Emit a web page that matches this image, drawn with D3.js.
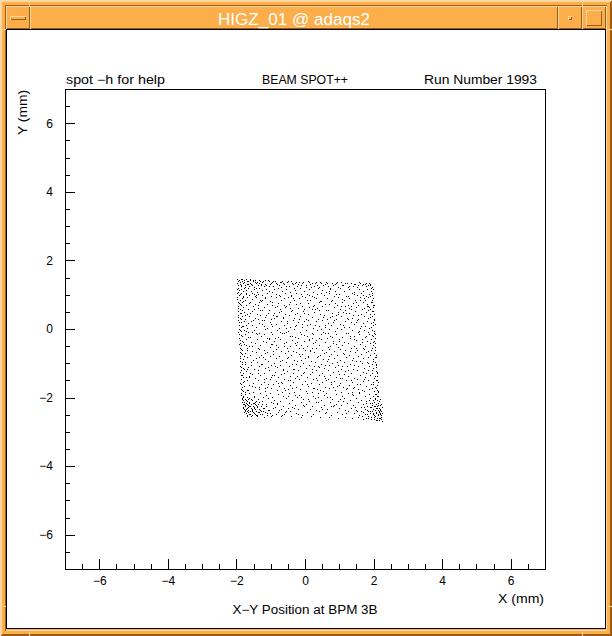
<!DOCTYPE html>
<html lang="en">
<head>
<meta charset="UTF-8">
<title>HIGZ_01 @ adaqs2</title>
<style>
  html, body { margin: 0; padding: 0; background: #fcae4a; }
  svg { display: block; }
  text { font-family: 'Liberation Sans', Arial, sans-serif; fill: #000; }
  .axis line { stroke: #000; shape-rendering: crispEdges; }
  .axis text { font-size: 12px; fill: #000; font-family: 'Liberation Sans', Arial, sans-serif; }
  .chrome { shape-rendering: crispEdges; }
</style>
</head>
<body>
<svg id="higz" width="612" height="636" viewBox="0 0 612 636"></svg>
<script src="https://d3js.org/d3.v7.min.js"></script>
<script>

const windowTitle = "HIGZ_01 @ adaqs2";
const headerLeft = "spot \u2212h for help",
    headerMid = "BEAM SPOT++",
    headerRight = "Run Number 1993";
const xTitle = "X (mm)",
    yTitle = "Y (mm)",
    caption = "X\u2212Y Position at BPM 3B";

const axisDomain = [-7, 7];
const majorTicks = [-6, -4, -2, 0, 2, 4, 6];
const minorTicks = [-6.5, -6, -5.5, -5, -4.5, -4, -3.5, -3, -2.5, -2, -1.5, -1, -0.5, 0,
  0.5, 1, 1.5, 2, 2.5, 3, 3.5, 4, 4.5, 5, 5.5, 6, 6.5];

// beam spot hits [x mm, y mm] (top to bottom)
const hits = [
  [-1.97,1.47],[-1.93,1.44],[-1.88,1.46],[-1.84,1.41],[-1.78,1.43],[-1.71,1.45],[-1.66,1.39],[-1.60,1.42],[-1.52,1.40],[-1.47,1.44],[-1.39,1.38],[-1.31,1.41],[-1.25,1.37],[-1.18,1.42],[-1.06,1.39],[-0.97,1.36],[-0.88,1.40],[-0.74,1.37],[-0.66,1.41],[-0.52,1.36],[-0.41,1.39],[-0.30,1.35],[-0.17,1.38],[-0.05,1.36],[0.08,1.39],[0.21,1.35],[0.33,1.37],[0.47,1.34],[0.62,1.38],[0.78,1.35],[0.91,1.33],[1.04,1.36],[1.18,1.33],[1.33,1.35],[1.47,1.32],[1.61,1.34],[1.74,1.31],[1.86,1.33],
  [-1.99,1.33],[-1.95,1.27],[-1.90,1.31],[-1.86,1.24],[-1.81,1.34],[-1.75,1.28],[-1.69,1.32],[-1.63,1.25],[-1.57,1.30],[-1.50,1.23],[-1.44,1.33],[-1.36,1.27],[-1.28,1.31],[-1.21,1.24],[-1.13,1.29],[-1.02,1.32],[-0.94,1.25],[-0.83,1.30],[-0.71,1.23],[-0.60,1.31],[-0.47,1.26],[-0.36,1.32],[-0.22,1.24],[-0.11,1.29],[0.02,1.23],[0.14,1.31],[0.27,1.26],[0.40,1.22],[0.53,1.29],[0.67,1.24],[0.83,1.28],[0.96,1.23],[1.11,1.27],[1.25,1.22],[1.39,1.26],[1.52,1.23],[1.66,1.27],[1.79,1.24],[1.90,1.28],[1.95,1.23],
  [-1.96,1.20],[-1.92,1.13],[-1.87,1.18],[-1.82,1.10],[-1.77,1.21],[-1.72,1.14],[-1.65,1.19],[-1.58,1.11],[-1.49,1.17],[-1.41,1.09],[-1.33,1.20],[-1.24,1.13],[-1.15,1.18],[-1.04,1.10],[-0.91,1.16],[-0.79,1.21],[-0.68,1.12],[-0.55,1.18],[-0.43,1.09],[-0.29,1.15],[-0.15,1.20],[-0.03,1.11],[0.11,1.17],[0.24,1.09],[0.38,1.19],[0.50,1.13],[0.61,1.08],[0.74,1.16],[0.88,1.11],[1.02,1.19],[1.15,1.10],[1.29,1.16],[1.43,1.09],[1.57,1.18],[1.70,1.12],[1.82,1.17],[1.93,1.10],[1.97,1.16],
  [-1.98,1.06],[-1.93,0.99],[-1.88,1.04],[-1.80,0.97],[-1.73,1.05],[-1.64,1.00],[-1.55,1.06],[-1.46,0.96],[-1.37,1.03],[-1.26,0.98],[-1.12,1.05],[-0.99,0.97],[-0.86,1.02],[-0.72,0.96],[-0.58,1.04],[-0.40,0.99],[-0.25,1.06],[-0.08,0.97],[0.06,1.03],[0.19,0.96],[0.35,1.02],[0.55,0.98],[0.70,1.05],[0.86,0.97],[1.00,1.02],[1.20,0.96],[1.36,1.04],[1.51,0.99],[1.64,1.05],[1.77,0.97],[1.88,1.03],[1.96,0.98],
  [-1.97,0.93],[-1.91,0.86],[-1.85,0.91],[-1.76,0.84],[-1.68,0.92],[-1.56,0.87],[-1.43,0.94],[-1.30,0.85],[-1.17,0.90],[-1.01,0.83],[-0.84,0.92],[-0.69,0.86],[-0.51,0.94],[-0.33,0.84],[-0.18,0.89],[0.00,0.93],[0.16,0.85],[0.31,0.91],[0.46,0.83],[0.63,0.90],[0.80,0.86],[0.97,0.93],[1.13,0.84],[1.28,0.90],[1.46,0.85],[1.61,0.92],[1.74,0.86],[1.85,0.93],[1.95,0.85],
  [-1.96,0.80],[-1.90,0.73],[-1.84,0.78],[-1.71,0.70],[-1.59,0.79],[-1.45,0.72],[-1.29,0.81],[-1.11,0.74],[-0.95,0.69],[-0.79,0.77],[-0.62,0.71],[-0.44,0.80],[-0.26,0.73],[-0.10,0.68],[0.09,0.76],[0.26,0.70],[0.42,0.79],[0.58,0.72],[0.76,0.81],[0.92,0.71],[1.08,0.78],[1.24,0.69],[1.40,0.77],[1.55,0.71],[1.70,0.80],[1.82,0.73],[1.94,0.78],[1.98,0.70],
  [-1.95,0.66],[-1.89,0.59],[-1.80,0.64],[-1.66,0.57],[-1.52,0.67],[-1.37,0.60],[-1.21,0.65],[-1.06,0.56],[-0.88,0.63],[-0.73,0.58],[-0.55,0.66],[-0.38,0.55],[-0.21,0.62],[-0.04,0.57],[0.13,0.65],[0.30,0.59],[0.49,0.67],[0.66,0.56],[0.84,0.63],[1.01,0.58],[1.17,0.66],[1.33,0.57],[1.50,0.64],[1.67,0.59],[1.80,0.66],[1.91,0.58],[1.99,0.63],
  [-1.94,0.53],[-1.88,0.46],[-1.79,0.51],[-1.70,0.44],[-1.54,0.52],[-1.40,0.45],[-1.25,0.54],[-1.09,0.47],[-0.93,0.42],[-0.76,0.50],[-0.59,0.44],[-0.41,0.53],[-0.24,0.46],[-0.07,0.52],[0.10,0.43],[0.27,0.50],[0.44,0.45],[0.61,0.54],[0.79,0.47],[0.95,0.43],[1.12,0.51],[1.29,0.46],[1.46,0.53],[1.63,0.44],[1.77,0.50],[1.89,0.45],[1.98,0.52],
  [-1.95,0.40],[-1.90,0.33],[-1.83,0.38],[-1.74,0.30],[-1.62,0.39],[-1.47,0.31],[-1.32,0.41],[-1.16,0.34],[-0.99,0.29],[-0.82,0.37],[-0.65,0.31],[-0.48,0.40],[-0.31,0.33],[-0.14,0.38],[0.04,0.29],[0.21,0.36],[0.37,0.30],[0.55,0.41],[0.72,0.34],[0.89,0.28],[1.06,0.39],[1.22,0.32],[1.39,0.40],[1.56,0.30],[1.71,0.37],[1.85,0.31],[1.96,0.38],[2.00,0.30],
  [-1.94,0.26],[-1.87,0.19],[-1.78,0.24],[-1.67,0.17],[-1.51,0.25],[-1.35,0.18],[-1.19,0.27],[-1.03,0.20],[-0.86,0.15],[-0.70,0.23],[-0.52,0.17],[-0.36,0.26],[-0.19,0.19],[-0.02,0.24],[0.15,0.16],[0.33,0.22],[0.50,0.27],[0.67,0.18],[0.85,0.25],[1.01,0.16],[1.18,0.23],[1.35,0.19],[1.52,0.26],[1.68,0.17],[1.82,0.24],[1.93,0.18],[2.01,0.25],
  [-1.93,0.13],[-1.88,0.05],[-1.80,0.10],[-1.69,0.03],[-1.56,0.12],[-1.42,0.06],[-1.26,0.14],[-1.10,0.04],[-0.95,0.09],[-0.77,0.02],[-0.60,0.11],[-0.43,0.05],[-0.27,0.13],[-0.09,0.07],[0.07,0.12],[0.24,0.03],[0.41,0.10],[0.58,0.05],[0.76,0.13],[0.93,0.04],[1.10,0.11],[1.27,0.06],[1.44,0.14],[1.60,0.03],[1.76,0.09],[1.88,0.04],[1.99,0.11],
  [-1.93,0.00],[-1.86,-0.07],[-1.77,-0.02],[-1.65,-0.10],[-1.49,-0.04],[-1.33,-0.11],[-1.16,-0.01],[-1.00,-0.08],[-0.83,-0.03],[-0.66,-0.12],[-0.49,-0.05],[-0.32,0.01],[-0.15,-0.09],[0.02,-0.02],[0.19,-0.11],[0.36,-0.04],[0.53,-0.10],[0.70,0.00],[0.87,-0.07],[1.04,-0.01],[1.21,-0.11],[1.38,-0.03],[1.55,-0.09],[1.71,-0.02],[1.85,-0.10],[1.96,-0.04],[2.02,-0.11],
  [-1.92,-0.14],[-1.85,-0.21],[-1.75,-0.16],[-1.60,-0.24],[-1.44,-0.13],[-1.28,-0.20],[-1.12,-0.25],[-0.95,-0.15],[-0.78,-0.22],[-0.61,-0.13],[-0.44,-0.19],[-0.28,-0.24],[-0.11,-0.14],[0.06,-0.21],[0.23,-0.16],[0.40,-0.25],[0.57,-0.13],[0.74,-0.20],[0.91,-0.15],[1.08,-0.23],[1.25,-0.13],[1.42,-0.21],[1.58,-0.16],[1.74,-0.24],[1.87,-0.14],[1.97,-0.20],[2.03,-0.15],
  [-1.92,-0.27],[-1.84,-0.35],[-1.72,-0.30],[-1.57,-0.37],[-1.40,-0.28],[-1.23,-0.34],[-1.06,-0.26],[-0.89,-0.36],[-0.72,-0.29],[-0.55,-0.38],[-0.38,-0.31],[-0.21,-0.27],[-0.04,-0.35],[0.13,-0.28],[0.30,-0.37],[0.47,-0.30],[0.64,-0.26],[0.81,-0.34],[0.98,-0.29],[1.15,-0.38],[1.32,-0.27],[1.49,-0.33],[1.65,-0.28],[1.80,-0.36],[1.92,-0.29],[2.02,-0.34],
  [-1.91,-0.40],[-1.86,-0.47],[-1.78,-0.43],[-1.63,-0.50],[-1.47,-0.41],[-1.30,-0.48],[-1.13,-0.39],[-0.96,-0.45],[-0.79,-0.52],[-0.62,-0.42],[-0.45,-0.49],[-0.28,-0.40],[-0.11,-0.46],[0.06,-0.51],[0.23,-0.41],[0.40,-0.47],[0.57,-0.39],[0.74,-0.50],[0.91,-0.43],[1.08,-0.48],[1.25,-0.40],[1.42,-0.51],[1.59,-0.44],[1.75,-0.49],[1.89,-0.41],[1.99,-0.47],[2.05,-0.42],
  [-1.91,-0.54],[-1.83,-0.61],[-1.70,-0.56],[-1.54,-0.64],[-1.37,-0.55],[-1.20,-0.62],[-1.03,-0.53],[-0.86,-0.59],[-0.69,-0.65],[-0.52,-0.56],[-0.35,-0.63],[-0.18,-0.54],[-0.01,-0.60],[0.16,-0.65],[0.33,-0.55],[0.50,-0.61],[0.67,-0.53],[0.84,-0.64],[1.01,-0.57],[1.18,-0.62],[1.35,-0.54],[1.52,-0.60],[1.68,-0.56],[1.83,-0.63],[1.95,-0.55],[2.04,-0.61],
  [-1.90,-0.67],[-1.84,-0.74],[-1.76,-0.70],[-1.61,-0.77],[-1.44,-0.68],[-1.27,-0.75],[-1.10,-0.66],[-0.93,-0.72],[-0.76,-0.78],[-0.59,-0.69],[-0.42,-0.76],[-0.25,-0.67],[-0.08,-0.73],[0.09,-0.78],[0.26,-0.68],[0.43,-0.75],[0.60,-0.66],[0.77,-0.72],[0.94,-0.77],[1.11,-0.69],[1.28,-0.76],[1.45,-0.67],[1.62,-0.73],[1.77,-0.68],[1.91,-0.75],[2.01,-0.69],[2.06,-0.76],
  [-1.90,-0.80],[-1.82,-0.87],[-1.68,-0.83],[-1.52,-0.90],[-1.35,-0.81],[-1.18,-0.88],[-1.01,-0.79],[-0.84,-0.85],[-0.67,-0.91],[-0.50,-0.82],[-0.33,-0.89],[-0.16,-0.80],[0.01,-0.86],[0.18,-0.92],[0.35,-0.81],[0.52,-0.88],[0.69,-0.79],[0.86,-0.85],[1.03,-0.91],[1.20,-0.82],[1.37,-0.89],[1.54,-0.80],[1.70,-0.86],[1.85,-0.81],[1.97,-0.88],[2.05,-0.83],
  [-1.89,-0.94],[-1.83,-1.01],[-1.74,-0.97],[-1.58,-1.04],[-1.41,-0.95],[-1.24,-1.02],[-1.07,-0.93],[-0.90,-0.99],[-0.73,-1.05],[-0.56,-0.96],[-0.39,-1.03],[-0.22,-0.94],[-0.05,-1.00],[0.12,-1.05],[0.29,-0.95],[0.46,-1.02],[0.63,-0.93],[0.80,-0.99],[0.97,-1.04],[1.14,-0.96],[1.31,-1.03],[1.48,-0.94],[1.65,-1.00],[1.80,-0.95],[1.94,-1.02],[2.04,-0.97],[2.08,-1.03],
  [-1.89,-1.07],[-1.81,-1.14],[-1.66,-1.10],[-1.50,-1.17],[-1.33,-1.08],[-1.16,-1.15],[-0.99,-1.06],[-0.82,-1.12],[-0.65,-1.18],[-0.48,-1.09],[-0.31,-1.16],[-0.14,-1.07],[0.03,-1.13],[0.20,-1.18],[0.37,-1.08],[0.54,-1.15],[0.71,-1.06],[0.88,-1.12],[1.05,-1.17],[1.22,-1.09],[1.39,-1.16],[1.56,-1.07],[1.72,-1.13],[1.87,-1.08],[1.99,-1.15],[2.07,-1.10],
  [-1.88,-1.20],[-1.82,-1.27],[-1.72,-1.23],[-1.55,-1.30],[-1.38,-1.21],[-1.21,-1.28],[-1.04,-1.19],[-0.87,-1.25],[-0.70,-1.31],[-0.53,-1.22],[-0.36,-1.29],[-0.19,-1.20],[-0.02,-1.26],[0.15,-1.31],[0.32,-1.21],[0.49,-1.28],[0.66,-1.19],[0.83,-1.25],[1.00,-1.30],[1.17,-1.22],[1.34,-1.29],[1.51,-1.20],[1.68,-1.26],[1.83,-1.21],[1.96,-1.28],[2.06,-1.23],[2.10,-1.29],
  [-1.88,-1.34],[-1.80,-1.41],[-1.64,-1.37],[-1.47,-1.44],[-1.30,-1.35],[-1.13,-1.42],[-0.96,-1.33],[-0.79,-1.39],[-0.62,-1.45],[-0.45,-1.36],[-0.28,-1.43],[-0.11,-1.34],[0.06,-1.40],[0.23,-1.45],[0.40,-1.35],[0.57,-1.42],[0.74,-1.33],[0.91,-1.39],[1.08,-1.44],[1.25,-1.36],[1.42,-1.43],[1.59,-1.34],[1.75,-1.40],[1.90,-1.35],[2.02,-1.42],[2.09,-1.37],
  [-1.87,-1.47],[-1.81,-1.54],[-1.70,-1.50],[-1.53,-1.57],[-1.36,-1.48],[-1.19,-1.55],[-1.02,-1.46],[-0.85,-1.52],[-0.68,-1.58],[-0.51,-1.49],[-0.34,-1.56],[-0.17,-1.47],[0.00,-1.53],[0.17,-1.58],[0.34,-1.48],[0.51,-1.55],[0.68,-1.46],[0.85,-1.52],[1.02,-1.57],[1.19,-1.49],[1.36,-1.56],[1.53,-1.47],[1.70,-1.53],[1.85,-1.48],[1.98,-1.55],[2.08,-1.50],[2.12,-1.56],
  [-1.87,-1.60],[-1.79,-1.67],[-1.62,-1.63],[-1.45,-1.70],[-1.28,-1.61],[-1.11,-1.68],[-0.94,-1.59],[-0.77,-1.65],[-0.60,-1.71],[-0.43,-1.62],[-0.26,-1.69],[-0.09,-1.60],[0.08,-1.66],[0.25,-1.71],[0.42,-1.61],[0.59,-1.68],[0.76,-1.59],[0.93,-1.65],[1.10,-1.70],[1.27,-1.62],[1.44,-1.69],[1.61,-1.60],[1.78,-1.66],[1.92,-1.61],[2.04,-1.68],[2.11,-1.63],
  [-1.86,-1.74],[-1.80,-1.81],[-1.68,-1.77],[-1.51,-1.84],[-1.34,-1.75],[-1.17,-1.82],[-1.00,-1.73],[-0.83,-1.79],[-0.66,-1.85],[-0.49,-1.76],[-0.32,-1.83],[-0.15,-1.74],[0.02,-1.80],[0.19,-1.85],[0.36,-1.75],[0.53,-1.82],[0.70,-1.73],[0.87,-1.79],[1.04,-1.84],[1.21,-1.76],[1.38,-1.83],[1.55,-1.74],[1.72,-1.80],[1.87,-1.75],[2.00,-1.82],[2.10,-1.77],[2.14,-1.83],
  [-1.86,-1.87],[-1.81,-1.94],[-1.76,-1.90],[-1.70,-1.97],[-1.62,-1.88],[-1.48,-1.95],[-1.31,-1.86],[-1.14,-1.93],[-0.97,-1.98],[-0.80,-1.89],[-0.63,-1.96],[-0.46,-1.87],[-0.29,-1.93],[-0.12,-1.98],[0.05,-1.88],[0.22,-1.95],[0.39,-1.86],[0.56,-1.92],[0.73,-1.97],[0.90,-1.89],[1.07,-1.96],[1.24,-1.87],[1.41,-1.93],[1.58,-1.88],[1.74,-1.95],[1.88,-1.90],[1.97,-1.96],[2.06,-1.89],[2.13,-1.94],
  [-1.85,-2.00],[-1.80,-2.07],[-1.75,-2.03],[-1.69,-2.10],[-1.63,-2.01],[-1.56,-2.08],[-1.47,-2.12],[-1.38,-2.04],[-1.24,-2.09],[-1.07,-2.00],[-0.90,-2.06],[-0.73,-2.11],[-0.56,-2.02],[-0.39,-2.08],[-0.22,-1.99],[-0.05,-2.05],[0.12,-2.10],[0.29,-2.01],[0.46,-2.07],[0.63,-1.99],[0.80,-2.04],[0.97,-2.10],[1.14,-2.02],[1.31,-2.08],[1.48,-2.00],[1.63,-2.06],[1.78,-2.11],[1.90,-2.02],[1.98,-2.08],[2.05,-2.01],[2.11,-2.06],[2.16,-2.10],
  [-1.83,-2.14],[-1.79,-2.20],[-1.76,-2.24],[-1.72,-2.16],[-1.67,-2.22],[-1.63,-2.13],[-1.58,-2.19],[-1.53,-2.25],[-1.48,-2.15],[-1.42,-2.21],[-1.35,-2.13],[-1.26,-2.18],[-1.13,-2.24],[-0.98,-2.14],[-0.81,-2.20],[-0.64,-2.25],[-0.47,-2.15],[-0.30,-2.22],[-0.13,-2.13],[0.04,-2.19],[0.21,-2.24],[0.38,-2.14],[0.55,-2.21],[0.72,-2.12],[0.89,-2.18],[1.06,-2.23],[1.23,-2.15],[1.40,-2.21],[1.55,-2.13],[1.68,-2.19],[1.80,-2.24],[1.89,-2.15],[1.95,-2.21],[2.01,-2.14],[2.06,-2.20],[2.10,-2.25],[2.14,-2.16],[2.18,-2.22],
  [-1.80,-2.27],[-1.77,-2.33],[-1.74,-2.37],[-1.70,-2.29],[-1.66,-2.35],[-1.62,-2.26],[-1.58,-2.31],[-1.54,-2.37],[-1.50,-2.28],[-1.45,-2.34],[-1.40,-2.26],[-1.34,-2.32],[-1.27,-2.38],[-1.19,-2.29],[-1.05,-2.35],[-0.88,-2.27],[-0.71,-2.33],[-0.54,-2.38],[-0.37,-2.28],[-0.20,-2.34],[-0.03,-2.26],[0.14,-2.32],[0.31,-2.37],[0.48,-2.27],[0.65,-2.34],[0.82,-2.26],[0.99,-2.31],[1.16,-2.37],[1.33,-2.29],[1.48,-2.35],[1.62,-2.27],[1.74,-2.33],[1.84,-2.38],[1.92,-2.28],[1.98,-2.34],[2.03,-2.26],[2.08,-2.31],[2.12,-2.37],[2.16,-2.29],[2.20,-2.35],
  [-1.76,-2.40],[-1.72,-2.46],[-1.69,-2.50],[-1.65,-2.42],[-1.60,-2.48],[-1.55,-2.39],[-1.50,-2.45],[-1.44,-2.51],[-1.38,-2.41],[-1.31,-2.47],[-1.22,-2.40],[-1.10,-2.46],[-0.95,-2.50],[-0.78,-2.41],[-0.61,-2.47],[-0.44,-2.39],[-0.27,-2.45],[-0.10,-2.51],[0.07,-2.42],[0.24,-2.48],[0.41,-2.40],[0.58,-2.46],[0.75,-2.51],[0.92,-2.42],[1.09,-2.48],[1.26,-2.40],[1.42,-2.46],[1.57,-2.51],[1.70,-2.42],[1.81,-2.48],[1.90,-2.40],[1.97,-2.46],[2.02,-2.51],[2.07,-2.41],[2.12,-2.47],[2.16,-2.40],[2.20,-2.45],[2.23,-2.51],
  [-1.70,-2.53],[-1.58,-2.55],[-1.41,-2.54],[-1.20,-2.56],[-0.98,-2.53],[-0.70,-2.55],[-0.40,-2.54],[-0.12,-2.56],[0.18,-2.55],[0.45,-2.58],[0.70,-2.56],[0.95,-2.59],[1.18,-2.57],[1.38,-2.60],[1.55,-2.58],[1.70,-2.62],[1.83,-2.59],[1.93,-2.63],[2.00,-2.58],[2.06,-2.64],[2.11,-2.60],[2.16,-2.66],[2.20,-2.61],[2.24,-2.67],
  // denser top band
  [-1.95,1.41],[-1.91,1.36],[-1.86,1.29],[-1.83,1.45],[-1.79,1.37],[-1.74,1.22],[-1.70,1.40],[-1.67,1.31],[-1.61,1.46],[-1.59,1.35],[-1.54,1.27],[-1.51,1.44],[-1.45,1.36],[-1.42,1.21],[-1.35,1.43],[-1.33,1.34],[-1.27,1.28],[-1.22,1.39],[-1.16,1.32],[-1.09,1.43],[-1.05,1.26],[-0.99,1.35],[-0.92,1.41],[-0.85,1.33],[-0.77,1.27],[-0.70,1.38],[-0.63,1.34],[-0.56,1.24],[-0.49,1.39],[-0.38,1.33],[-0.33,1.21],[-0.26,1.37],[-0.19,1.30],[-0.08,1.34],[0.04,1.28],[0.11,1.36],[0.17,1.22],[0.30,1.33],[0.36,1.29],[0.44,1.37],[0.57,1.31],[0.65,1.34],[0.72,1.20],[0.87,1.30],[0.94,1.37],[1.08,1.29],[1.22,1.35],[1.29,1.24],[1.43,1.30],[1.56,1.28],[1.58,1.36],[1.69,1.30],[1.77,1.34],[1.83,1.27],[1.91,1.31],[1.93,1.19],
  // left edge
  [-1.99,1.18],[-1.94,1.09],[-1.89,1.01],[-1.97,0.88],[-1.92,0.77],[-1.87,0.69],[-1.94,0.61],[-1.85,0.55],[-1.91,0.48],[-1.96,0.35],[-1.88,0.28],[-1.92,0.21],[-1.84,0.08],[-1.90,-0.03],[-1.95,-0.10],[-1.87,-0.18],[-1.89,-0.31],[-1.81,-0.39],[-1.93,-0.45],[-1.86,-0.58],[-1.88,-0.70],[-1.79,-0.78],[-1.91,-0.84],[-1.85,-0.97],[-1.87,-1.10],[-1.78,-1.18],[-1.90,-1.25],[-1.84,-1.33],[-1.86,-1.45],[-1.77,-1.52],[-1.89,-1.58],[-1.83,-1.69],[-1.85,-1.79],[-1.76,-1.85],[-1.88,-1.92],[-1.82,-1.99],
  [-1.80,0.92],[-1.75,0.42],[-1.73,-0.07],[-1.69,-0.62],[-1.74,-1.03],[-1.71,-1.40],[-1.66,-1.79],
  // bottom-left corner
  [-1.84,-2.04],[-1.82,-2.18],[-1.81,-2.29],[-1.78,-2.12],[-1.77,-2.41],[-1.75,-2.23],[-1.73,-2.08],[-1.73,-2.32],[-1.71,-2.45],[-1.70,-2.19],[-1.68,-2.38],[-1.67,-2.05],[-1.65,-2.28],[-1.64,-2.49],[-1.62,-2.16],[-1.61,-2.40],[-1.59,-2.24],[-1.57,-2.04],[-1.56,-2.34],[-1.55,-2.52],[-1.53,-2.17],[-1.52,-2.42],[-1.49,-2.30],[-1.47,-2.20],[-1.46,-2.47],[-1.44,-2.09],[-1.43,-2.38],[-1.40,-2.27],[-1.39,-2.50],[-1.36,-2.18],[-1.33,-2.43],[-1.31,-2.36],[-1.29,-2.24],[-1.25,-2.48],[-1.22,-2.31],[-1.18,-2.42],[-1.15,-2.19],[-1.12,-2.52],[-1.08,-2.36],[-1.02,-2.44],[-0.94,-2.29],[-0.86,-2.47],[-0.75,-2.37],[-0.68,-2.52],[-0.58,-2.43],[-0.50,-2.30],
  // bottom-right corner
  [1.62,-2.40],[1.66,-2.55],[1.72,-2.28],[1.75,-2.47],[1.77,-2.60],[1.79,-2.17],[1.82,-2.36],[1.85,-2.53],[1.87,-2.07],[1.89,-2.44],[1.91,-2.28],[1.93,-2.57],[1.94,-2.16],[1.96,-2.38],[1.99,-2.49],[2.00,-2.24],[2.02,-2.62],[2.03,-2.04],[2.04,-2.35],[2.05,-2.54],[2.07,-2.18],[2.08,-2.44],[2.09,-2.66],[2.10,-2.30],[2.11,-1.96],[2.13,-2.51],[2.14,-2.22],[2.15,-2.42],[2.17,-2.59],[2.18,-2.04],[2.18,-2.32],[2.19,-2.48],[2.21,-2.18],[2.21,-2.56],[2.22,-2.38],[2.23,-2.62],[2.24,-2.27],[2.25,-2.45],
  // right edge
  [1.94,1.05],[1.89,0.97],[1.97,0.90],[1.92,0.79],[2.00,0.71],[1.87,0.64],[1.95,0.52],[2.01,0.43],[1.90,0.36],[1.98,0.21],[2.03,0.15],[1.92,0.07],[2.00,-0.06],[1.94,-0.17],[2.04,-0.26],[1.97,-0.38],[2.05,-0.52],[1.93,-0.60],[2.02,-0.70],[2.07,-0.81],[1.98,-0.92],[2.06,-1.06],[1.95,-1.19],[2.09,-1.25],[2.03,-1.37],[2.10,-1.48],[1.99,-1.59],[2.08,-1.72],[2.13,-1.80],[2.04,-1.90],
  // interior
  [-1.42,0.98],[-0.97,1.07],[-0.62,0.89],[-0.13,1.02],[0.27,0.94],[0.69,1.10],[1.09,0.88],[1.42,1.01],
  [-1.63,0.75],[-1.24,0.84],[-0.81,0.66],[-0.47,0.74],[0.05,0.85],[0.36,0.62],[0.88,0.77],[1.27,0.61],[1.60,0.84],
  [-1.48,0.58],[-1.14,0.40],[-0.69,0.52],[-0.30,0.45],[0.19,0.58],[0.52,0.36],[0.97,0.51],[1.36,0.33],[1.73,0.60],
  [-1.57,0.22],[-1.21,0.09],[-0.91,0.31],[-0.55,0.02],[-0.17,0.30],[0.28,0.11],[0.63,0.29],[1.14,0.06],[1.48,0.20],
  [-1.39,-0.16],[-1.06,-0.29],[-0.72,-0.08],[-0.37,-0.21],[0.11,-0.33],[0.46,-0.15],[0.82,-0.41],[1.31,-0.19],[1.66,-0.37],
  [-1.55,-0.51],[-1.17,-0.71],[-0.84,-0.47],[-0.49,-0.63],[-0.06,-0.56],[0.37,-0.80],[0.71,-0.58],[1.15,-0.74],[1.49,-0.55],
  [-1.43,-0.86],[-1.09,-1.11],[-0.74,-0.94],[-0.27,-1.01],[0.08,-0.83],[0.42,-1.12],[0.92,-0.97],[1.26,-1.19],[1.61,-0.92],
  [-1.59,-1.27],[-1.21,-1.47],[-0.91,-1.33],[-0.43,-1.50],[-0.05,-1.29],[0.31,-1.42],[0.77,-1.56],[1.13,-1.31],[1.52,-1.61],
  [-1.34,-1.68],[-1.01,-1.86],[-0.59,-1.77],[-0.18,-1.93],[0.22,-1.72],[0.61,-1.88],[0.99,-1.63],[1.37,-1.90],[1.67,-1.78],
  [-0.82,-2.17],[-0.33,-2.29],[0.09,-2.03],[0.49,-2.33],[0.85,-2.21],[1.19,-2.45],[1.45,-2.27],
  [-1.73,1.02],[-1.35,0.79],[-0.89,0.47],[-0.53,0.23],[-0.22,-0.39],[0.15,-0.62],[0.59,-1.05],[1.03,-1.44],[1.41,-1.73],
  [1.71,0.91],[1.33,0.68],[0.91,0.40],[0.57,0.12],[0.21,-0.27],[-0.18,-0.72],[-0.64,-1.21],[-1.07,-1.59],[-1.48,-1.98],
  [-1.26,0.27],[-0.42,0.96],[0.44,0.83],[1.21,0.47],[1.58,-0.06],[0.78,-0.24],[-0.08,0.16],[-0.98,-0.44],[-1.66,-0.22],
  [-1.29,-1.02],[-0.35,-1.17],[0.55,-1.36],[1.44,-1.06],[1.77,-1.28],[0.33,-2.14],[-0.70,-1.55],[-1.62,-1.41],[1.01,-2.03],
  [-1.50,1.02],[-1.18,0.93],[-0.76,1.00],[-0.36,0.91],[0.13,0.98],[0.48,1.06],[0.91,1.01],[1.26,0.95],[1.68,0.98],
  [-1.80,0.83],[-1.37,0.70],[-0.97,0.80],[-0.57,0.63],[-0.16,0.76],[0.22,0.66],[0.70,0.74],[1.04,0.68],[1.49,0.80],[1.85,0.68],
  [-1.60,0.47],[-1.31,0.56],[-0.85,0.39],[-0.44,0.60],[-0.02,0.46],[0.40,0.55],[0.78,0.38],[1.18,0.56],[1.54,0.41],[1.84,0.55],
  [-1.71,0.13],[-1.38,0.30],[-1.00,0.14],[-0.64,0.36],[-0.30,0.09],[0.10,0.26],[0.46,0.00],[0.82,0.19],[1.25,0.28],[1.63,0.10],
  [-1.54,-0.08],[-1.20,-0.15],[-0.87,-0.27],[-0.54,-0.09],[-0.03,-0.18],[0.32,-0.31],[0.66,-0.12],[1.00,-0.36],[1.44,-0.29],[1.79,-0.20],
  [-1.73,-0.46],[-1.33,-0.58],[-0.92,-0.63],[-0.62,-0.51],[-0.25,-0.48],[0.20,-0.55],[0.54,-0.70],[0.95,-0.53],[1.32,-0.64],[1.71,-0.58],
  [-1.57,-0.95],[-1.23,-0.82],[-0.88,-1.08],[-0.52,-0.86],[-0.12,-0.91],[0.25,-1.09],[0.67,-0.87],[1.07,-1.08],[1.40,-0.84],[1.84,-1.00],
  [-1.70,-1.17],[-1.37,-1.29],[-1.00,-1.39],[-0.60,-1.27],[-0.22,-1.36],[0.19,-1.24],[0.61,-1.48],[0.96,-1.22],[1.33,-1.50],[1.71,-1.45],
  [-1.55,-1.66],[-1.16,-1.73],[-0.80,-1.58],[-0.39,-1.72],[0.05,-1.61],[0.45,-1.79],[0.82,-1.69],[1.23,-1.71],[1.58,-1.85],[1.95,-1.73],
  [-1.22,-1.98],[-0.93,-2.15],[-0.51,-1.96],[-0.07,-2.23],[0.37,-1.97],[0.75,-2.26],[1.10,-2.11],[1.52,-2.40],[-0.19,-2.47],[0.62,-2.41]
];

const svg = d3.select("#higz");

const orange = "#fcae4a",
    light = "#fed8a2",
    dark = "#9c5c18";

// ---- window frame (motif style) ----
const chrome = svg.append("g").attr("class", "chrome");

chrome.append("rect").attr("width", 612).attr("height", 636).attr("fill", orange);

function bevel(g, x, y, w, h, up) {
  const tl = up ? light : dark, br = up ? dark : light;
  g.append("path").attr("fill", "none").attr("stroke", tl)
      .attr("d", "M" + (x + 0.5) + "," + (y + h - 0.5) + "V" + (y + 0.5) + "H" + (x + w - 0.5));
  g.append("path").attr("fill", "none").attr("stroke", br)
      .attr("d", "M" + (x + w - 0.5) + "," + (y + 0.5) + "V" + (y + h - 0.5) + "H" + (x + 0.5));
}

bevel(chrome, 0, 0, 612, 636, true);
bevel(chrome, 1, 1, 610, 634, true);
bevel(chrome, 5, 5, 602, 626, false);

// resize corner notches
[[29, 0, 29, 5], [582, 0, 582, 5], [29, 631, 29, 636], [582, 631, 582, 636],
 [0, 29, 5, 29], [0, 606, 5, 606], [607, 29, 612, 29], [607, 606, 612, 606]].forEach(function (s) {
  chrome.append("line")
      .attr("x1", s[0] + 0.5).attr("y1", s[1] + 0.5)
      .attr("x2", s[2] + 0.5).attr("y2", s[3] + 0.5)
      .attr("stroke", light);
});

// title bar pieces
bevel(chrome, 6, 6, 24, 23, true);
bevel(chrome, 30, 6, 528, 23, true);
bevel(chrome, 558, 6, 24, 23, true);
bevel(chrome, 582, 6, 24, 23, true);
bevel(chrome, 10, 16, 16, 4, true);
bevel(chrome, 568, 16, 4, 4, true);
bevel(chrome, 586, 10, 16, 16, true);

svg.append("text")
    .attr("x", 294).attr("y", 25)
    .attr("text-anchor", "middle")
    .attr("textLength", 152)
    .attr("lengthAdjust", "spacingAndGlyphs")
    .style("font-size", "17px")
    .style("fill", "#fff")
    .text(windowTitle);

// client area
svg.append("rect")
    .attr("x", 6.5).attr("y", 29.5)
    .attr("width", 599).attr("height", 599)
    .attr("fill", "#fff")
    .attr("stroke", "#000");

// ---- plot ----
const x = d3.scaleLinear().domain(axisDomain).range([65, 545]),
    y = d3.scaleLinear().domain(axisDomain).range([569, 89]);

const xAxisMinor = d3.axisBottom(x).tickValues(minorTicks).tickSize(-5).tickSizeOuter(0).tickFormat(""),
    xAxisMajor = d3.axisBottom(x).tickValues(majorTicks).tickSize(-10).tickSizeOuter(0).tickPadding(7),
    yAxisMinor = d3.axisLeft(y).tickValues(minorTicks).tickSize(-5).tickSizeOuter(0).tickFormat(""),
    yAxisMajor = d3.axisLeft(y).tickValues(majorTicks).tickSize(-10).tickSizeOuter(0).tickPadding(12);

[xAxisMinor, xAxisMajor].forEach(function (a) {
  svg.append("g").attr("class", "axis").attr("transform", "translate(0,569)").call(a);
});
[yAxisMinor, yAxisMajor].forEach(function (a) {
  svg.append("g").attr("class", "axis").attr("transform", "translate(65,0)").call(a);
});
svg.selectAll(".axis .domain").remove();

svg.append("rect")
    .attr("x", 65.5).attr("y", 89.5)
    .attr("width", 480).attr("height", 480)
    .attr("fill", "none")
    .attr("stroke", "#000")
    .style("shape-rendering", "crispEdges");

svg.append("g").selectAll("rect")
    .data(hits)
    .join("rect")
    .attr("x", function (d) { return Math.round(x(d[0])); })
    .attr("y", function (d) { return Math.round(y(d[1])); })
    .attr("width", 1)
    .attr("height", 1)
    .attr("fill", "#000")
    .style("shape-rendering", "crispEdges");

// ---- texts ----
function label(txt, px, py, anchor, len) {
  return svg.append("text")
      .attr("x", px).attr("y", py)
      .attr("text-anchor", anchor)
      .attr("textLength", len)
      .attr("lengthAdjust", "spacingAndGlyphs")
      .style("font-size", "12px")
      .text(txt);
}

label(headerLeft, 66, 84, "start", 99);
label(headerMid, 305, 84, "middle", 86);
label(headerRight, 537, 84, "end", 113);
label(xTitle, 544, 603, "end", 46);
label(caption, 305, 614, "middle", 145);
label(yTitle, 0, 0, "start", 45)
    .attr("transform", "translate(27,135) rotate(-90)");

</script>
</body>
</html>
